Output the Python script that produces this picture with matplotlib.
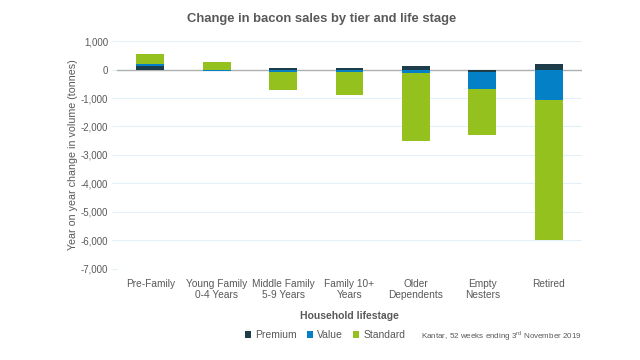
import matplotlib
matplotlib.use("Agg")
import matplotlib.pyplot as plt
import numpy as np

plt.rcParams['font.family'] = ['Liberation Sans', 'DejaVu Sans']
plt.rcParams['mathtext.fontset'] = 'custom'
plt.rcParams['mathtext.rm'] = 'Liberation Sans'

categories = ["Pre-Family", "Young Family\n0-4 Years", "Middle Family\n5-9 Years",
              "Family 10+\nYears", "Older\nDependents", "Empty\nNesters", "Retired"]
premium = [115, -10, 40, 70, 120, -70, 190]
value = [95, -45, -95, -90, -135, -620, -1070]
standard = [330, 270, -630, -800, -2365, -1600, -4900]

yticks = [1000, 0, -1000, -2000, -3000, -4000, -5000, -6000, -7000]

colors = {"Premium": "#1e3d4b", "Value": "#0480c6", "Standard": "#95c11f"}
text_col = "#595959"
grid_col = "#e3f0f9"

fig = plt.figure(figsize=(6.4, 3.6), dpi=100)
ax = fig.add_axes([0.183, 0.253, 0.726, 0.633])

x = np.arange(len(categories))
pos_base = np.zeros(len(categories))
neg_base = np.zeros(len(categories))
for name, vals in [("Premium", premium), ("Value", value), ("Standard", standard)]:
    vals = np.array(vals, dtype=float)
    bottoms = np.where(vals >= 0, pos_base, neg_base)
    ax.bar(x, vals, width=0.42, bottom=bottoms, color=colors[name], label=name, zorder=3)
    pos_base = pos_base + np.where(vals >= 0, vals, 0)
    neg_base = neg_base + np.where(vals < 0, vals, 0)

ax.set_ylim(-7000, 1000)
ax.set_xlim(-0.5, len(categories) - 0.5)
ax.set_yticks(yticks)
ax.set_yticklabels([f"{v:,}" for v in yticks])
ax.set_xticks(x)
ax.set_xticklabels(categories)
ax.grid(axis='y', color=grid_col, linewidth=0.8, zorder=0)
ax.axhline(0, color='#b0b0b0', linewidth=1, zorder=2)
for s in ax.spines.values():
    s.set_visible(False)
ax.tick_params(axis='x', length=0, labelsize=7.3, colors=text_col, pad=7)
ax.tick_params(axis='y', length=3.5, width=0.8, color=grid_col, labelsize=7,
               labelcolor=text_col, pad=3)

ax.set_ylabel("Year on year change in volume (tonnes)", fontsize=7.7, color=text_col)
ax.yaxis.set_label_coords(-0.084, 0.5)
ax.set_xlabel("Household lifestage", fontsize=7.5, color=text_col, fontweight='bold', labelpad=8)

fig.text(0.502, 0.947, "Change in bacon sales by tier and life stage", ha='center', va='center',
         fontsize=9.4, fontweight='bold', color=text_col)

leg = fig.legend(*ax.get_legend_handles_labels(), loc='center', bbox_to_anchor=(0.508, 0.069),
                 ncol=3, frameon=False, fontsize=7.5, handlelength=0.55, handleheight=0.55,
                 handletextpad=0.4, columnspacing=1.0, labelcolor=text_col,
                 borderpad=0, borderaxespad=0)

fig.text(0.909, 0.066, r"Kantar, 52 weeks ending 3$^{\mathrm{rd}}$ November 2019", ha='right',
         va='center', fontsize=5.8, color=text_col)

fig.savefig("out.png", dpi=100)
